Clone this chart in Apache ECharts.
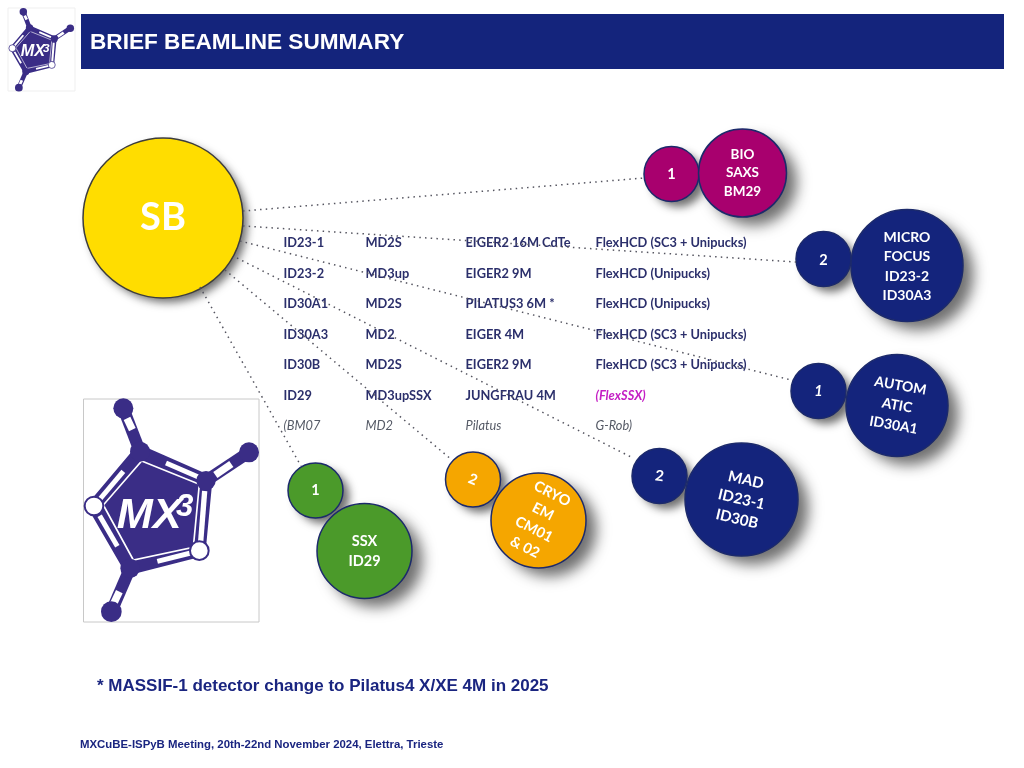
<!DOCTYPE html>
<html><head><meta charset="utf-8">
<style>html,body{margin:0;padding:0;background:#fff}#c{width:1024px;height:768px}</style>
<script src="https://cdn.jsdelivr.net/npm/echarts@6/dist/echarts.min.js"></script>
</head><body><div id="c"></div>
<script>
// ---- data ----
const bubbleLabels = ['SB','1','BIO\nSAXS\nBM29','2','MICRO\nFOCUS\nID23-2\nID30A3','1','AUTOM\nATIC\nID30A1','2','MAD\nID23-1\nID30B','2','CRYO\nEM\nCM01\n& 02','1','SSX\nID29'];
const bubbleX = [163,671.5,742.5,823.5,907,818.5,897,659.5,741.5,473,538.5,315.5,364.5];
const bubbleY = [218,174,173,259,265.5,391,405.5,476,499.5,479.5,520.5,490.5,551];
const bubbleDiameter = [160,55,88,55,112,55,102,55,113,55,95,55,95];
const bubbleGroup = ['sb','bio','bio','micro','micro','auto','auto','mad','mad','cryo','cryo','ssx','ssx'];
const bubbleTilt = [0,0,0,0,0,0,-10,-8,-13,-22,-27,0,0];
const linkFromX = [243,243,240,237,225,200];
const linkFromY = [211,226,241,258,270,287];
const linkToX = [644,796,791,633,452,301];
const linkToY = [178,262,380,458,460,466];
const tableCol1 = ['ID23-1','ID23-2','ID30A1','ID30A3','ID30B','ID29','(BM07'];
const tableCol2 = ['MD2S','MD3up','MD2S','MD2','MD2S','MD3upSSX','MD2'];
const tableCol3 = ['EIGER2 16M CdTe','EIGER2 9M','PILATUS3 6M *','EIGER 4M','EIGER2 9M','JUNGFRAU 4M','Pilatus'];
const tableCol4 = ['FlexHCD (SC3 + Unipucks)','FlexHCD (Unipucks)','FlexHCD (Unipucks)','FlexHCD (SC3 + Unipucks)','FlexHCD (SC3 + Unipucks)','(FlexSSX)','G-Rob)'];
const tableColX = [283,365,465,595];
const tableRowY = [242.5,273.5,303.5,334.5,364.5,395.5,425.5];
const titleText = 'BRIEF BEAMLINE SUMMARY';
const noteText = '* MASSIF-1 detector change to Pilatus4 X/XE 4M in 2025';
const footerText = 'MXCuBE-ISPyB Meeting, 20th-22nd November 2024, Elettra, Trieste';

// ---- styles ----
const NAVY='#14247c', LOGO='#3a2d86', INK='#2b2f6b';
const groupFill={sb:'#ffdd00',bio:'#a8006e',micro:NAVY,auto:NAVY,mad:NAVY,cryo:'#f5a600',ssx:'#4b9a2a'};
const SANS='Lato, "Open Sans", sans-serif';
const ARIAL='"Liberation Sans", Arial, sans-serif';

const shadowData = bubbleLabels.map((t,i)=>{
  const d=bubbleDiameter[i], small=d<60, sb=bubbleGroup[i]==='sb';
  return {value:[bubbleX[i],bubbleY[i]],symbolSize:d-1,
    itemStyle:{opacity:1,color:'#888',shadowColor:'rgba(25,25,25,.62)',
      shadowBlur:sb?8:(small?9:14),
      shadowOffsetX:sb?5:(small?7:11),shadowOffsetY:sb?5:(small?6:9)}};
});

const bubbleData = bubbleLabels.map((t,i)=>{
  const d=bubbleDiameter[i], g=bubbleGroup[i], small=d<60;
  return {
    value:[bubbleX[i],bubbleY[i]], symbolSize:d,
    itemStyle:{opacity:1,color:groupFill[g],borderColor:g==='sb'?'#3d3d3d':'#1c2a6b',borderWidth:1.5},
    label:{show:true,position:'inside',offset:[0,g==='micro'?1:0],formatter:t,color:'#fff',opacity:1,rotate:bubbleTilt[i],fontFamily:SANS,align:'center',verticalAlign:'middle',
      fontWeight:'bold',fontStyle:(g==='auto'&&small)?'italic':'normal',
      fontSize:g==='sb'?38:(g==='bio'&&!small?13.5:(g==='mad'?15:(g==='auto'&&!small?14:(g==='micro'&&!small?14:14.5)))),
      lineHeight:g==='bio'?18.5:(g==='micro'?19.4:20)}
  };
});

const linkData = linkFromX.map((x,i)=>({coords:[[x,linkFromY[i]],[linkToX[i],linkToY[i]]]}));

const tableCols=[tableCol1,tableCol2,tableCol3,tableCol4];
const tableData=[];
tableCols.forEach((col,c)=>col.forEach((t,r)=>{
  const last=r===6, flex=t==='(FlexSSX)';
  tableData.push({value:[tableColX[c],tableRowY[r]],
    label:{show:true,position:'right',distance:0,formatter:t,opacity:1,fontFamily:SANS,fontSize:12.8,
      fontWeight:last?'normal':'bold',fontStyle:(last||flex)?'italic':'normal',
      color:flex?'#c41fc4':(last?'#555a66':INK)}});
}));

// logo built in local coordinates
function logo(x,y,s){
  const N=[[210,200],[408,287],[388,497],[180,550],[72,363]];
  const kids=[];
  const line=(a,b,w,col)=>kids.push({type:'line',z:6,shape:{x1:a[0],y1:a[1],x2:b[0],y2:b[1]},style:{stroke:col,lineWidth:w}});
  const circle=(c,r,fill,stroke)=>kids.push({type:'circle',z:6,shape:{cx:c[0],cy:c[1],r:r},style:{fill:fill,stroke:stroke||null,lineWidth:stroke?6:0}});
  // terminal bonds
  line(N[0],[160,70],36,LOGO); line([171,100],[187,134],22,'#fff');
  line(N[1],[537,202],36,LOGO); line([436,270],[484,237],22,'#fff');
  line(N[3],[124,680],36,LOGO); line([131,656],[148,620],22,'#fff');
  // ring
  kids.push({type:'polygon',z:6,shape:{points:N},style:{fill:LOGO,stroke:LOGO,lineWidth:38,lineJoin:'round'}});
  line([288,234],[385,276],15,'#fff');
  line([404,318],[392,470],16,'#fff');
  line([262,529],[362,504],15,'#fff');
  line([89,392],[142,484],15,'#fff');
  line([90,342],[160,259],15,'#fff');
  // inner pentagon
  kids.push({type:'polygon',z:6,shape:{points:[[215,228],[388,298],[370,487],[190,525],[100,360]]},style:{fill:LOGO,stroke:'#fff',lineWidth:5}});
  circle(N[0],30,LOGO); circle(N[1],29,LOGO); circle(N[3],29,LOGO);
  circle(N[2],28,'#fff',LOGO); circle(N[4],28,'#fff',LOGO);
  circle([160,70],30,LOGO); circle([537,202],30,LOGO); circle([124,680],31,LOGO);
  kids.push({type:'text',z:7,style:{x:140,y:392,text:'MX',fill:'#fff',font:'italic bold 130px '+ARIAL,textVerticalAlign:'middle'}});
  kids.push({type:'text',z:7,style:{x:318,y:366,text:'3',fill:'#fff',font:'italic bold 94px '+ARIAL,textVerticalAlign:'middle'}});
  return {type:'group',x:x,y:y,scaleX:s,scaleY:s,silent:true,children:kids};
}

const chart=echarts.init(document.getElementById('c'),null,{renderer:'canvas'});
chart.setOption({
  animation:false,
  backgroundColor:'#fff',
  grid:{left:0,right:0,top:0,bottom:0},
  xAxis:{type:'value',min:0,max:1024,show:false},
  yAxis:{type:'value',min:0,max:768,inverse:true,show:false},
  tooltip:{show:false},
  series:[
    {type:'scatter',name:'table',z:2,silent:true,symbolSize:1,itemStyle:{color:'transparent',opacity:1},data:tableData},
    {type:'scatter',name:'shadows',z:3,silent:true,data:shadowData},
    {type:'scatter',name:'bubbles',z:4,silent:true,data:bubbleData},
    {type:'lines',name:'links',z:5,coordinateSystem:'cartesian2d',silent:true,
      lineStyle:{color:'#555560',width:1.5,type:[1.5,4.2],opacity:1,curveness:0},data:linkData}
  ],
  graphic:{elements:[
    {type:'rect',z:1,shape:{x:81,y:14,width:923,height:55},style:{fill:'#14247c'}},
    {type:'text',z:5,style:{x:90,y:43,text:titleText,fill:'#fff',font:'bold 22.6px '+ARIAL,textVerticalAlign:'middle'}},
    {type:'rect',z:1,shape:{x:83.5,y:399,width:175.5,height:223},style:{fill:'#fff',stroke:'#c8c8c8',lineWidth:1}},
    {type:'rect',z:1,shape:{x:8,y:8,width:67,height:83},style:{fill:'#fff',stroke:'#efefef',lineWidth:1}},
    logo(70,385,1/3),
    logo(3.4,3,0.1246),
    {type:'text',z:5,style:{x:97,y:686.5,text:noteText,fill:'#1a2580',font:'bold 17px '+ARIAL,textVerticalAlign:'middle'}},
    {type:'text',z:5,style:{x:80,y:744.5,text:footerText,fill:'#1a2580',font:'bold 11.4px '+ARIAL,textVerticalAlign:'middle'}}
  ]}
});
</script></body></html>
